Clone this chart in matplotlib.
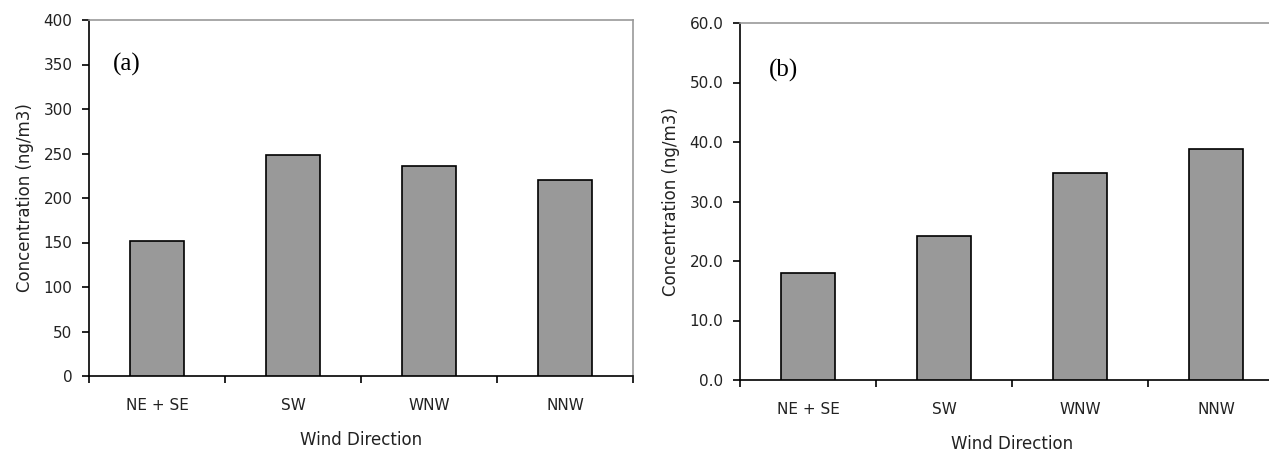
import matplotlib
matplotlib.use("Agg")
import matplotlib.pyplot as plt
from matplotlib.ticker import FixedLocator, NullFormatter

categories = ["NE + SE", "SW", "WNW", "NNW"]
values_a = [152, 248, 236, 220]
values_b = [18.0, 24.2, 34.8, 38.9]
yticks_a = [0, 50, 100, 150, 200, 250, 300, 350, 400]
yticks_b = [0.0, 10.0, 20.0, 30.0, 40.0, 50.0, 60.0]

plt.rcParams["font.family"] = ["DejaVu Sans"]

fig = plt.figure(figsize=(12.69, 4.55), dpi=100)
ax_a = fig.add_axes([89 / 1269, 1 - 376 / 455, 544 / 1269, 356 / 455])
ax_b = fig.add_axes([740 / 1269, 1 - 380 / 455, 544 / 1269, 357 / 455])


def style(ax, values, yticks, fmt, label, label_x, label_y):
    x = list(range(len(categories)))
    ax.bar(x, values, width=0.39, color="#999999", edgecolor="black", linewidth=1.2, zorder=3)
    ax.set_xlim(-0.5, len(categories) - 0.5)
    ax.set_ylim(yticks[0], yticks[-1])
    ax.set_yticks(yticks)
    ax.set_yticklabels([fmt.format(v) for v in yticks], fontsize=11, color="#222222")
    ax.set_xticks(x)
    ax.set_xticklabels(categories, fontsize=11, color="#222222")
    ax.tick_params(axis="x", which="major", length=0, pad=16)
    ax.xaxis.set_minor_locator(FixedLocator([i + 0.5 for i in range(-1, len(categories))]))
    ax.xaxis.set_minor_formatter(NullFormatter())
    ax.tick_params(axis="x", which="minor", length=5, width=1.2, direction="out")
    ax.tick_params(axis="y", length=5, width=1.2, direction="out", pad=7)
    ax.spines["left"].set_linewidth(1.2)
    ax.spines["bottom"].set_linewidth(1.2)
    for side in ("top", "right"):
        ax.spines[side].set_color("#9a9a9a")
        ax.spines[side].set_linewidth(1.2)
    ax.set_xlabel("Wind Direction", fontsize=12, labelpad=13, color="#222222")
    ax.set_ylabel("Concentration (ng/m3)", fontsize=12, labelpad=7, color="#222222")
    ax.text(label_x, label_y, label, transform=ax.transAxes,
            fontsize=18, family="Liberation Serif", va="center", ha="left")


style(ax_a, values_a, yticks_a, "{:.0f}", "(a)", 0.044, 1 - (64.5 - 20) / 356)
style(ax_b, values_b, yticks_b, "{:.1f}", "(b)", 0.053, 1 - (70 - 22.7) / 357)

fig.savefig("out.png", dpi=100)
